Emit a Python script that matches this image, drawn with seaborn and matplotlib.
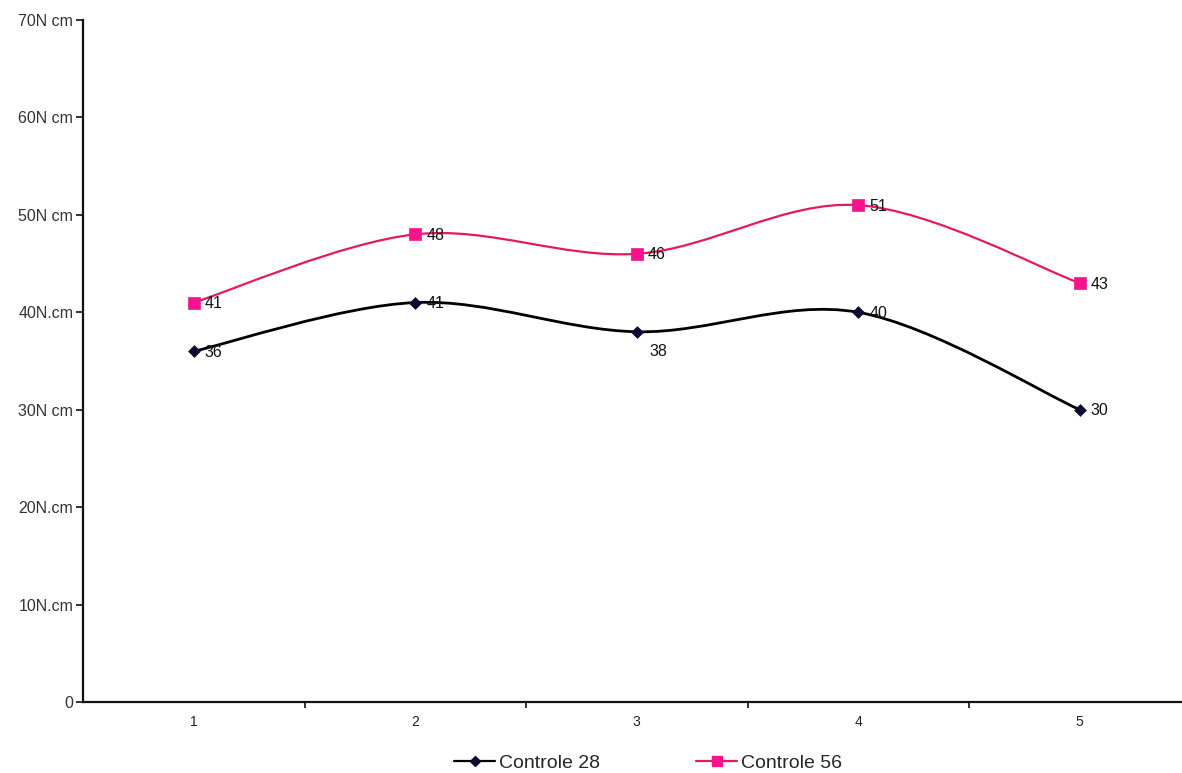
import numpy as np
import pandas as pd
import matplotlib
matplotlib.use("Agg")
import matplotlib.pyplot as plt
from matplotlib.path import Path
from matplotlib.patches import PathPatch
from matplotlib.lines import Line2D
import seaborn as sns

# Data
sessions = [1, 2, 3, 4, 5]
controle_28 = [36, 41, 38, 40, 30]
controle_56 = [41, 48, 46, 51, 43]
series_names = ["Controle 28", "Controle 56"]
y_ticks = [0, 10, 20, 30, 40, 50, 60, 70]
y_tick_labels = ["0", "10N.cm", "20N.cm", "30N cm", "40N.cm", "50N cm", "60N cm", "70N cm"]

df = pd.DataFrame({
    "sessao": sessions * 2,
    "torque": controle_28 + controle_56,
    "serie": [series_names[0]] * 5 + [series_names[1]] * 5,
})

sns.set_theme(style="white")
plt.rcParams["font.family"] = ["Liberation Sans", "DejaVu Sans"]

line_colors = {"Controle 28": "#000000", "Controle 56": "#e41a5c"}
marker_colors = {"Controle 28": "#0a0a30", "Controle 56": "#f5148c"}
markers = {"Controle 28": "D", "Controle 56": "s"}
marker_sizes = {"Controle 28": 6, "Controle 56": 8}

W, H = 1182, 773
fig = plt.figure(figsize=(W / 100, H / 100), dpi=100)
ax = fig.add_axes([83 / W, 71 / H, (W - 83) / W, 682 / H])


def smooth_path(xs, ys):
    """Cubic Bezier path through the points (Catmull-Rom style tangents)."""
    pts = np.column_stack([xs, ys]).astype(float)
    n = len(pts)
    verts = [pts[0]]
    codes = [Path.MOVETO]
    for i in range(n - 1):
        p0 = pts[i - 1] if i > 0 else pts[i]
        p1 = pts[i]
        p2 = pts[i + 1]
        p3 = pts[i + 2] if i + 2 < n else pts[i + 1]
        c1 = p1 + (p2 - p0) / 6.0
        c2 = p2 - (p3 - p1) / 6.0
        verts += [c1, c2, p2]
        codes += [Path.CURVE4] * 3
    return Path(verts, codes)


for name in series_names:
    sub = df[df["serie"] == name]
    lw = 2.0 if name == "Controle 28" else 1.6
    ax.add_patch(PathPatch(smooth_path(sub["sessao"], sub["torque"]),
                           facecolor="none", edgecolor=line_colors[name],
                           lw=lw, zorder=2))

# Point markers drawn through seaborn's scatter layer
for name in series_names:
    sub = df[df["serie"] == name]
    sns.scatterplot(data=sub, x="sessao", y="torque", marker=markers[name],
                    s=marker_sizes[name] ** 2, color=marker_colors[name],
                    edgecolor=marker_colors[name], linewidth=0.5,
                    ax=ax, legend=False, zorder=3)

# Value labels
for name in series_names:
    sub = df[df["serie"] == name]
    for x, y in zip(sub["sessao"], sub["torque"]):
        if name == "Controle 28" and x == 3:
            off = (13, -20)
        else:
            off = (11, -1)
        ax.annotate(f"{y}", (x, y), xytext=off, textcoords="offset pixels",
                    ha="left", va="center", fontsize=11.5, color="#111111",
                    zorder=4)

ax.set_xlim(0.5, 0.5 + (W - 83) / 221.5)
ax.set_ylim(0, 70)
ax.set_yticks(y_ticks)
ax.set_yticklabels(y_tick_labels)
ax.set_xticks([1.5, 2.5, 3.5, 4.5], minor=False)
ax.set_xticklabels([])
ax.set_xticks(sessions, minor=True)
ax.set_xticklabels([str(s) for s in sessions], minor=True)
ax.tick_params(axis="x", which="major", direction="out", length=4, width=1.2,
               color="#111111", bottom=True)
ax.tick_params(axis="x", which="minor", length=0, pad=9, labelsize=10,
               labelcolor="#222222")
ax.tick_params(axis="y", direction="out", length=5, width=1.2, color="#111111",
               left=True, labelsize=11.5, labelcolor="#333333", pad=2)
ax.set_xlabel("")
ax.set_ylabel("")
for side in ["top", "right"]:
    ax.spines[side].set_visible(False)
for side in ["left", "bottom"]:
    ax.spines[side].set_color("#111111")
    ax.spines[side].set_linewidth(1.6)
ax.grid(False)

handles = [
    Line2D([], [], color=line_colors[n], lw=1.6, marker=markers[n],
           ms=marker_sizes[n] - 1, mfc=marker_colors[n], mec=marker_colors[n])
    for n in series_names
]
fig.legend(handles, series_names, loc="center", bbox_to_anchor=(648 / W, 1 - 763 / H),
           ncol=2, frameon=False, fontsize=14, handlelength=2.15,
           columnspacing=4.9, handletextpad=0.2)

fig.savefig("out.png", dpi=100)
